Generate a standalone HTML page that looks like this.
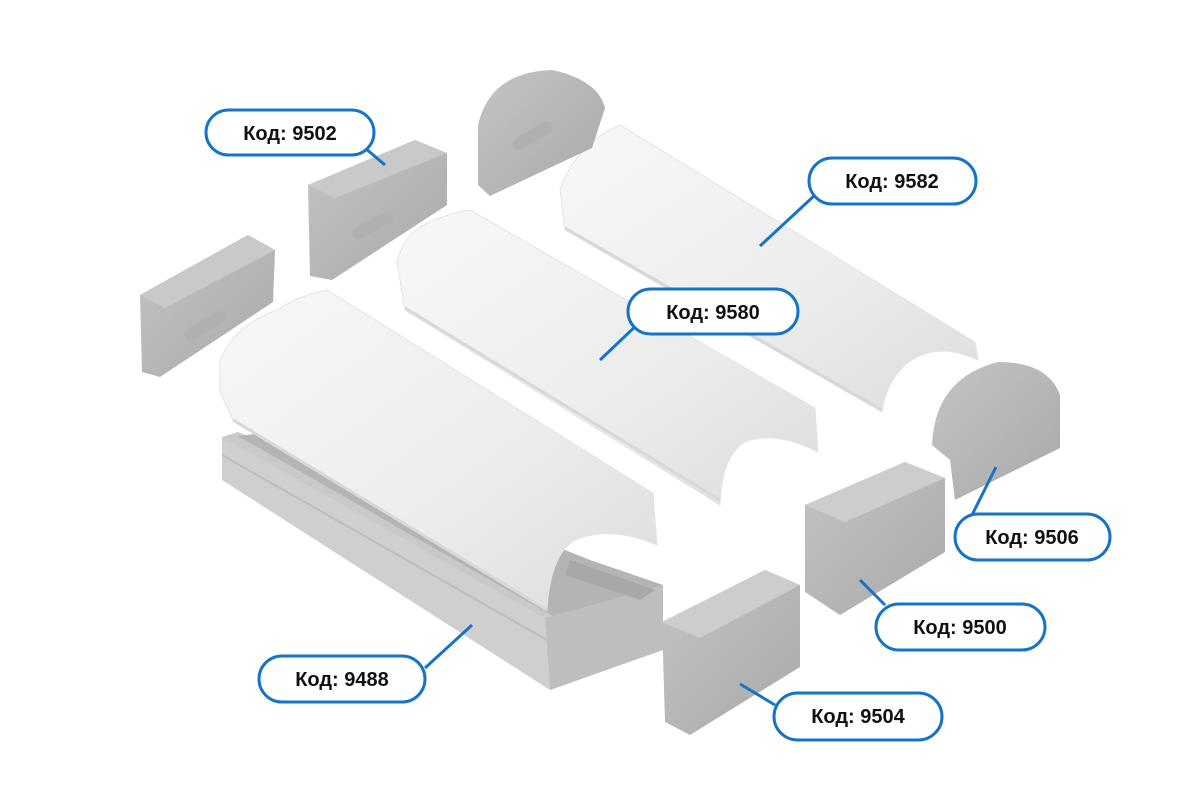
<!DOCTYPE html>
<html><head><meta charset="utf-8"><style>
html,body{margin:0;padding:0;background:#fff;width:1200px;height:800px;overflow:hidden}
svg{display:block}
</style></head><body>
<svg width="1200" height="800" viewBox="0 0 1200 800" xmlns="http://www.w3.org/2000/svg">
<defs>
<linearGradient id="cov" x1="0" y1="0" x2="1" y2="1">
<stop offset="0" stop-color="#f8f8f8"/><stop offset="0.6" stop-color="#ececec"/><stop offset="1" stop-color="#dcdcdc"/></linearGradient>
<linearGradient id="cap" x1="0" y1="0" x2="1" y2="1">
<stop offset="0" stop-color="#c4c4c4"/><stop offset="1" stop-color="#a9a9a9"/></linearGradient>
</defs>
<!-- aluminium channel 9488 -->
<polygon points="222,437 238,432 560,560 663,585 663,650 550,690 545,618 222,480" fill="#c9c9c9"/>
<polygon points="238,436 272,432 590,560 663,585 560,620" fill="#b4b4b4"/>
<polygon points="222,437 545,618 550,690 222,480" fill="#cfcfcf"/>
<line x1="222" y1="455" x2="547" y2="640" stroke="#bdbdbd" stroke-width="2"/>
<polygon points="545,618 663,585 663,650 550,690" fill="#bebebe"/>
<polygon points="570,560 655,590 640,600 565,575" fill="#a8a8a8"/>
<!-- cover 9488 -->
<path d="M220,360 Q235,325 277,310 Q300,295 327,290 L653,493 L657,545 Q610,525 575,540 Q550,555 547,610 L233,420 L220,392 Z" fill="url(#cov)" stroke="#e4e4e4" stroke-width="1"/>
<path d="M233,420 L547,610" stroke="#d8d8d8" stroke-width="3"/>
<!-- cover 9580 -->
<path d="M397,262 Q405,228 440,218 Q455,212 470,210 L815,408 L818,452 Q775,430 745,442 Q722,455 720,505 L405,310 Z" fill="url(#cov)" stroke="#e4e4e4" stroke-width="1"/>
<path d="M405,308 L720,500" stroke="#d8d8d8" stroke-width="3"/>
<!-- cover 9582 -->
<path d="M560,190 Q575,145 620,125 L975,342 L978,360 Q935,340 905,365 Q885,385 882,412 L565,230 Z" fill="url(#cov)" stroke="#e4e4e4" stroke-width="1"/>
<path d="M565,228 L882,410" stroke="#d8d8d8" stroke-width="3"/>
<!-- caps -->
<polygon points="308,185 415,140 447,153 447,205 332,280 310,276" fill="url(#cap)"/>
<polygon points="308,185 415,140 447,153 335,198" fill="#c9c9c9"/>
<rect x="350" y="220" width="45" height="12" rx="6" fill="#b0b0b0" transform="rotate(-28 372 226)"/>
<polygon points="140,295 248,235 275,250 273,302 160,377 142,372" fill="url(#cap)"/>
<polygon points="140,295 248,235 275,250 165,308" fill="#c9c9c9"/>
<rect x="183" y="320" width="45" height="12" rx="6" fill="#b0b0b0" transform="rotate(-30 205 326)"/>
<path d="M478,185 L478,125 Q490,72 552,70 Q598,80 605,108 L592,148 L490,196 Z" fill="url(#cap)"/>
<rect x="510" y="130" width="45" height="12" rx="6" fill="#b0b0b0" transform="rotate(-30 532 136)"/>
<path d="M932,445 Q935,378 998,362 Q1048,362 1060,395 L1060,448 L955,500 L950,460 Z" fill="url(#cap)"/>
<polygon points="805,505 905,462 945,478 945,552 840,615 805,592" fill="url(#cap)"/>
<polygon points="805,505 905,462 945,478 845,522" fill="#cdcdcd"/>
<polygon points="662,622 765,570 800,585 800,667 690,735 665,722" fill="url(#cap)"/>
<polygon points="662,622 765,570 800,585 700,638" fill="#cdcdcd"/>
<!-- leader lines -->
<g stroke="#1673c6" stroke-width="3" fill="none">
<line x1="365" y1="148" x2="385" y2="165"/>
<line x1="815" y1="195" x2="760" y2="246"/>
<line x1="640" y1="322" x2="600" y2="360"/>
<line x1="972" y1="515" x2="996" y2="467"/>
<line x1="885" y1="605" x2="860" y2="580"/>
<line x1="425" y1="668" x2="472" y2="625"/>
<line x1="775" y1="705" x2="740" y2="684"/>
</g>
<!-- labels -->
<g font-family="Liberation Sans, sans-serif" font-weight="bold" font-size="20" fill="#111" text-anchor="middle">
<g stroke="#1673c6" stroke-width="3" fill="#fff">
<rect x="206" y="110" width="168" height="45" rx="22.5"/>
<rect x="809" y="158" width="167" height="46" rx="23"/>
<rect x="628" y="289" width="170" height="45" rx="22.5"/>
<rect x="955" y="514" width="155" height="46" rx="23"/>
<rect x="876" y="604" width="169" height="46" rx="23"/>
<rect x="259" y="656" width="166" height="46" rx="23"/>
<rect x="774" y="693" width="168" height="47" rx="23.5"/>
</g>
<text x="290" y="140">Код: 9502</text>
<text x="892" y="188">Код: 9582</text>
<text x="713" y="319">Код: 9580</text>
<text x="1032" y="544">Код: 9506</text>
<text x="960" y="634">Код: 9500</text>
<text x="342" y="686">Код: 9488</text>
<text x="858" y="723">Код: 9504</text>
</g>
</svg>
</body></html>
